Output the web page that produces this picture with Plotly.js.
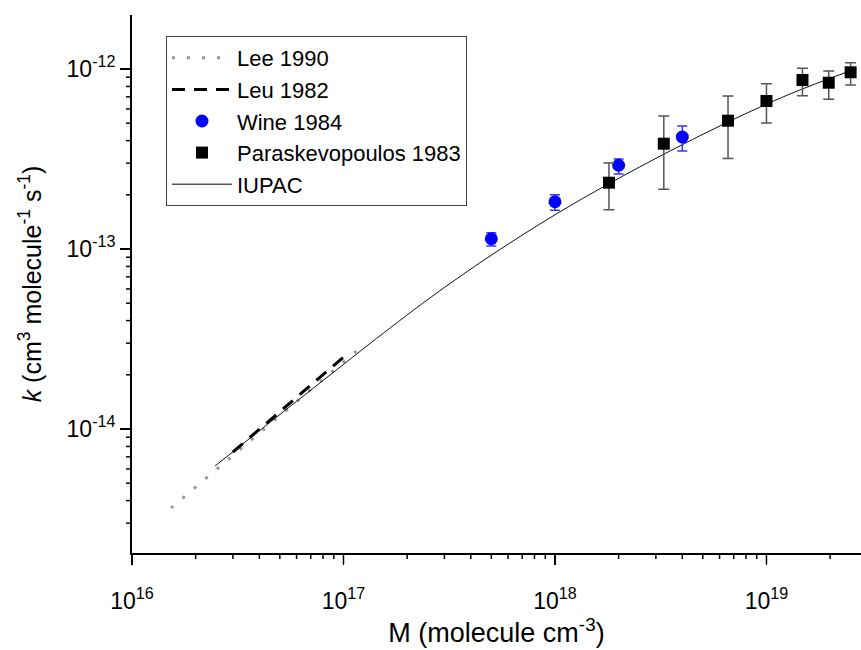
<!DOCTYPE html>
<html>
<head>
<meta charset="utf-8">
<script src="https://cdn.plot.ly/plotly-3.0.1.min.js"></script>
<style>html,body{margin:0;padding:0;background:#fff}#chart{width:861px;height:650px}</style>
</head>
<body>
<div id="chart"></div>
<script>
// Lee 1990 (dotted)
const leeM = [1.53e16, 1.15e17];
const leeK = [3.64e-15, 2.71e-14];
// Leu 1982 (dashed)
const leuM = [3.0e16, 1.04e17];
const leuK = [7.45e-15, 2.61e-14];
// Wine 1984
const wineM = [5e17, 1e18, 2e18, 4e18];
const wineK = [1.14e-13, 1.83e-13, 2.92e-13, 4.19e-13];
const wineHi = [1.23e-13, 2.0e-13, 3.16e-13, 4.82e-13];
const wineLo = [1.04e-13, 1.64e-13, 2.61e-13, 3.5e-13];
// Paraskevopoulos 1983
const parM = [1.8e18, 3.27e18, 6.58e18, 1.0e19, 1.48e19, 1.97e19, 2.5e19];
const parK = [2.335e-13, 3.846e-13, 5.16e-13, 6.64e-13, 8.69e-13, 8.39e-13, 9.59e-13];
const parHi = [3.0e-13, 5.48e-13, 7.08e-13, 8.28e-13, 1.009e-12, 9.75e-13, 1.084e-12];
const parLo = [1.65e-13, 2.15e-13, 3.18e-13, 5.01e-13, 7.11e-13, 6.79e-13, 8.15e-13];
// IUPAC curve
const iupacM = [2.47e16, 5.01e16, 1.006e17, 1.335e17, 2.565e17, 4.929e17, 1.011e18, 1.8e18, 3.498e18, 6.722e18, 1.291e19, 2.51e19];
const iupacK = [6.23e-15, 1.205e-14, 2.297e-14, 2.985e-14, 5.35e-14, 9.14e-14, 1.561e-13, 2.306e-13, 3.503e-13, 5.14e-13, 7.26e-13, 9.81e-13];

// Axis tick labels
const xTickVals = [1e16, 1e17, 1e18, 1e19];
const xTickText = ['10<sup>16</sup>', '10<sup>17</sup>', '10<sup>18</sup>', '10<sup>19</sup>'];
const yTickVals = [1e-14, 1e-13, 1e-12];
const yTickText = ['10<sup>-14</sup>', '10<sup>-13</sup>', '10<sup>-12</sup>'];

const FONT = 'Arial, Liberation Sans, sans-serif';
const X_RANGE = [16, 19.447];
const Y_RANGE = [-14.689, -11.70];
const W = 861, H = 650, ML = 132, MR = 0, MT = 15, MB = 97;
const PW = W - ML - MR, PH = H - MT - MB;

// Tick marks (major at decades, minor at 2..9) as paper-referenced segments
function tickShapes() {
  const shapes = [];
  const seg = (isX, frac, len) => {
    if (frac < -1e-9 || frac > 1 + 1e-9) return;
    if (isX) shapes.push({type: 'line', xref: 'paper', yref: 'paper', x0: frac, x1: frac, y0: 0, y1: -len / PH,
      line: {color: '#000000', width: 1.5}, layer: 'above'});
    else shapes.push({type: 'line', xref: 'paper', yref: 'paper', y0: frac, y1: frac, x0: 0, x1: -len / PW,
      line: {color: '#000000', width: 1.5}, layer: 'above'});
  };
  for (let e = Math.floor(X_RANGE[0]); e <= Math.ceil(X_RANGE[1]); e++) {
    seg(true, (e - X_RANGE[0]) / (X_RANGE[1] - X_RANGE[0]), 11);
    for (let d = 2; d <= 9; d++) seg(true, (e + Math.log10(d) - X_RANGE[0]) / (X_RANGE[1] - X_RANGE[0]), 6);
  }
  for (let e = Math.floor(Y_RANGE[0]); e <= Math.ceil(Y_RANGE[1]); e++) {
    seg(false, (e - Y_RANGE[0]) / (Y_RANGE[1] - Y_RANGE[0]), 11);
    for (let d = 2; d <= 9; d++) seg(false, (e + Math.log10(d) - Y_RANGE[0]) / (Y_RANGE[1] - Y_RANGE[0]), 6);
  }
  return shapes;
}

const traces = [
  {x: leeM, y: leeK, name: 'Lee 1990', mode: 'lines', type: 'scatter',
   line: {color: '#999999', width: 3, dash: '3px,12px'}},
  {x: leuM, y: leuK, name: 'Leu 1982', mode: 'lines', type: 'scatter',
   line: {color: '#000000', width: 3, dash: '13px,9px'}},
  {x: iupacM, y: iupacK, name: 'IUPAC', mode: 'lines', type: 'scatter',
   line: {color: '#111111', width: 1, shape: 'spline', smoothing: 1}, showlegend: false},
  {x: wineM, y: wineK, name: 'Wine 1984', mode: 'markers', type: 'scatter',
   marker: {color: '#0000ff', size: 13, symbol: 'circle'},
   error_y: {type: 'data', symmetric: false,
     array: wineHi.map((v, i) => v - wineK[i]),
     arrayminus: wineLo.map((v, i) => wineK[i] - v),
     color: '#3333ff', thickness: 1.5, width: 5}},
  {x: parM, y: parK, name: 'Paraskevopoulos 1983', mode: 'markers', type: 'scatter',
   marker: {color: '#000000', size: 12, symbol: 'square'},
   error_y: {type: 'data', symmetric: false,
     array: parHi.map((v, i) => v - parK[i]),
     arrayminus: parLo.map((v, i) => parK[i] - v),
     color: '#555555', thickness: 1.5, width: 5.5}},
  {x: [null], y: [null], name: 'IUPAC', mode: 'lines', type: 'scatter', line: {color: '#000000', width: 1}}
];

const layout = {
  width: W, height: H,
  margin: {l: ML, r: MR, t: MT, b: MB},
  font: {family: FONT, size: 22},
  showlegend: true,
  legend: {x: 0.0466, y: 0.961, xanchor: 'left', yanchor: 'top',
    bordercolor: '#444444', borderwidth: 1,
    font: {family: FONT, size: 22, color: '#000000'}, itemwidth: 60, traceorder: 'normal'},
  xaxis: {type: 'log', range: X_RANGE, showgrid: false, zeroline: false,
    showline: true, linecolor: '#000000', linewidth: 2,
    ticks: 'outside', ticklen: 10, tickwidth: 1.5, tickcolor: '#000000',
    tickmode: 'array', tickvals: xTickVals, ticktext: xTickText,
    ticklabelstandoff: 16, tickfont: {family: FONT, size: 23, color: '#000000'},
    title: {text: 'M (molecule cm<sup>-3</sup>)', font: {family: FONT, size: 27, color: '#000000'}, standoff: 0}},
  yaxis: {type: 'log', range: Y_RANGE, showgrid: false, zeroline: false,
    showline: true, linecolor: '#000000', linewidth: 2,
    ticks: 'outside', ticklen: 10, tickwidth: 1.5, tickcolor: '#000000',
    tickmode: 'array', tickvals: yTickVals, ticktext: yTickText,
    tickfont: {family: FONT, size: 23, color: '#000000'},
    title: {text: '<i>k</i> (cm<sup>3</sup> molecule<sup>-1</sup> s<sup>-1</sup>)', font: {family: FONT, size: 25, color: '#000000'}, standoff: 18}},
  shapes: tickShapes()
};

Plotly.newPlot('chart', traces, layout, {displayModeBar: false, staticPlot: true});
</script>
</body>
</html>
